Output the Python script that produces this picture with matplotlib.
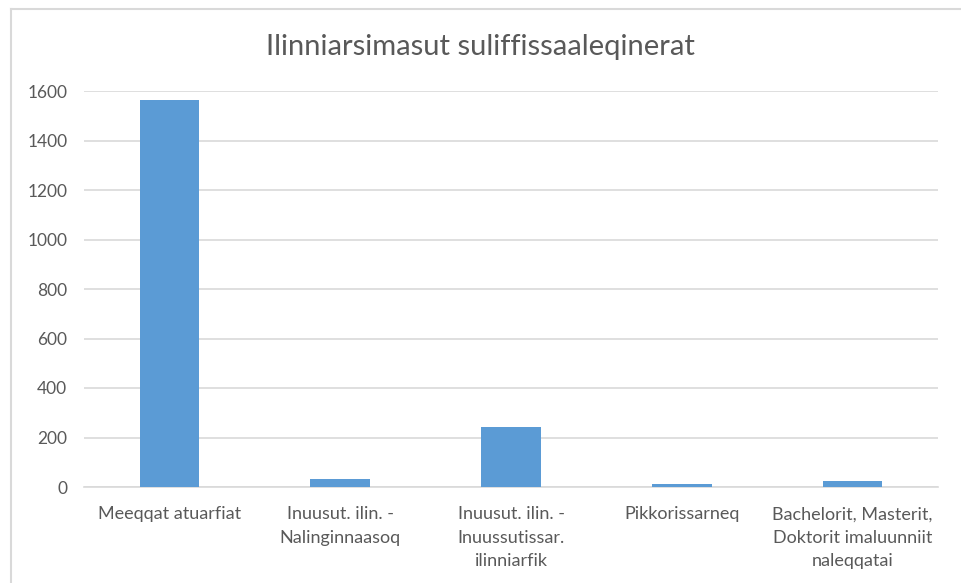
import numpy as np
from matplotlib import pyplot as plt
from matplotlib.lines import Line2D

categories = [
    "Meeqqat atuarfiat",
    "Inuusut. ilin. -\nNalinginnaasoq",
    "Inuusut. ilin. -\nInuussutissar.\nilinniarfik",
    "Pikkorissarneq",
    "Bachelorit, Masterit,\nDoktorit imaluunniit\nnaleqqatai",
]
values = [1565, 31, 241, 13, 23]
yticks = [0, 200, 400, 600, 800, 1000, 1200, 1400, 1600]

plt.rcParams['font.family'] = ['Lato', 'DejaVu Sans']

fig = plt.figure(figsize=(9.61, 5.83), dpi=100)
ax = fig.add_axes([84/961, 1-487/583, (938-84)/961, (487-91)/583])

x = np.arange(len(categories))
ax.bar(x, values, width=0.35, color='#5b9bd5', zorder=3)

ax.set_xlim(-0.5, len(categories) - 0.5)
ax.set_ylim(0, 1600)
ax.set_yticks(yticks)
ax.set_yticklabels([str(v) for v in yticks], fontsize=12.5, color='#595959')
ax.set_xticks(x)
ax.set_xticklabels(categories, fontsize=13, color='#595959', linespacing=1.55)
ax.tick_params(axis='both', length=0)
ax.tick_params(axis='y', pad=12)
ax.tick_params(axis='x', pad=14)
ax.grid(axis='y', color='#d9d9d9', linewidth=1.2, zorder=0)
for s in ['top', 'right', 'left']:
    ax.spines[s].set_visible(False)
ax.spines['bottom'].set_color('#d9d9d9')
ax.spines['bottom'].set_linewidth(1.2)

fig.text(0.5, 1-47/583, "Ilinniarsimasut suliffissaaleqinerat", ha='center', va='center',
         fontsize=21, color='#595959')

# chart border (top and left visible in the screenshot)
fig.add_artist(Line2D([10.5/961, 10.5/961], [0, 1-9/583], transform=fig.transFigure, color='#d9d9d9', lw=1.5))
fig.add_artist(Line2D([10.5/961, 1], [1-9/583, 1-9/583], transform=fig.transFigure, color='#d9d9d9', lw=1.5))

fig.savefig("out.png", dpi=100)
